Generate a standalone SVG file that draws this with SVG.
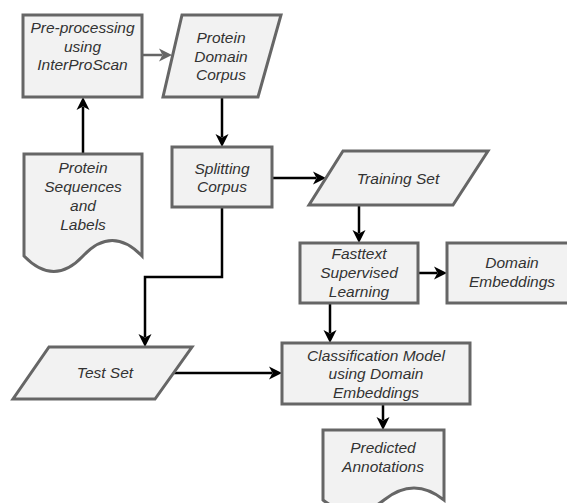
<svg xmlns="http://www.w3.org/2000/svg" width="567" height="503" viewBox="0 0 567 503">
<style>
.n{fill:#f2f2f2;stroke:#666;stroke-width:3}
.t{font-family:"Liberation Sans",Arial,sans-serif;font-style:italic;font-size:15.5px;fill:#333;text-anchor:middle}
.c{fill:none;stroke:#000;stroke-width:2.5}
.g{fill:none;stroke:#666;stroke-width:2.5}
</style>
<defs>
<marker id="ab" markerUnits="userSpaceOnUse" viewBox="-4 -8 16 16" markerWidth="16" markerHeight="16" refX="0" refY="0" orient="auto">
<path d="M-3,-6.5 L10,0 L-3,6.5 L0.5,0 Z" fill="#000"/>
</marker>
<marker id="ag" markerUnits="userSpaceOnUse" viewBox="-4 -8 16 16" markerWidth="16" markerHeight="16" refX="0" refY="0" orient="auto">
<path d="M-3,-6.5 L10,0 L-3,6.5 L0.5,0 Z" fill="#666"/>
</marker>
</defs>
<g id="connectors">
<path class="c" d="M83,154 V107" marker-end="url(#ab)"/>
<path class="g" d="M142,55 H162" marker-end="url(#ag)"/>
<path class="c" d="M222,97 V137" marker-end="url(#ab)"/>
<path class="c" d="M272,178 H316" marker-end="url(#ab)"/>
<path class="c" d="M222,207 V277 H145 V337" marker-end="url(#ab)"/>
<path class="c" d="M359,205 V233" marker-end="url(#ab)"/>
<path class="c" d="M418,273 H437" marker-end="url(#ab)"/>
<path class="c" d="M330,303 V333" marker-end="url(#ab)"/>
<path class="c" d="M173,373 H272" marker-end="url(#ab)"/>
<path class="c" d="M383,404 V420" marker-end="url(#ab)"/>
</g>
<g id="preprocessing">
<rect class="n" x="23" y="15" width="119" height="82"/>
<text class="t" x="82.5" y="33">Pre-processing</text>
<text class="t" x="82.5" y="52">using</text>
<text class="t" x="82.5" y="70">InterProScan</text>
</g>
<g id="corpus">
<polygon class="n" points="182,15 281,15 258,97 163,97"/>
<text class="t" x="221" y="43">Protein</text>
<text class="t" x="221" y="62">Domain</text>
<text class="t" x="221" y="80">Corpus</text>
</g>
<g id="sequences">
<path class="n" d="M24,154 H142 V256 Q112,225 83,256 Q54,287 24,256 Z"/>
<text class="t" x="83" y="173">Protein</text>
<text class="t" x="83" y="192">Sequences</text>
<text class="t" x="83" y="211">and</text>
<text class="t" x="83" y="230">Labels</text>
</g>
<g id="splitting">
<rect class="n" x="172" y="147" width="100" height="60"/>
<text class="t" x="222" y="174">Splitting</text>
<text class="t" x="222" y="192">Corpus</text>
</g>
<g id="training">
<polygon class="n" points="343,151 488,151 453,205 309,205"/>
<text class="t" x="398" y="184">Training Set</text>
</g>
<g id="fasttext">
<rect class="n" x="300" y="243" width="118" height="60"/>
<text class="t" x="359" y="259">Fasttext</text>
<text class="t" x="359" y="278">Supervised</text>
<text class="t" x="359" y="297">Learning</text>
</g>
<g id="domainembeddings">
<rect class="n" x="447" y="243" width="130" height="60"/>
<text class="t" x="512" y="268">Domain</text>
<text class="t" x="512" y="287">Embeddings</text>
</g>
<g id="testset">
<polygon class="n" points="49,347 192,347 155,399 13,399"/>
<text class="t" x="105" y="378">Test Set</text>
</g>
<g id="classification">
<rect class="n" x="282" y="343" width="188" height="61"/>
<text class="t" x="376" y="361">Classification Model</text>
<text class="t" x="376" y="379">using Domain</text>
<text class="t" x="376" y="398">Embeddings</text>
</g>
<g id="predicted">
<path class="n" d="M323,430 H444 V500 Q414,476 384,500 Q354,524 323,500 Z"/>
<text class="t" x="383" y="453">Predicted</text>
<text class="t" x="383" y="472">Annotations</text>
</g>
</svg>
